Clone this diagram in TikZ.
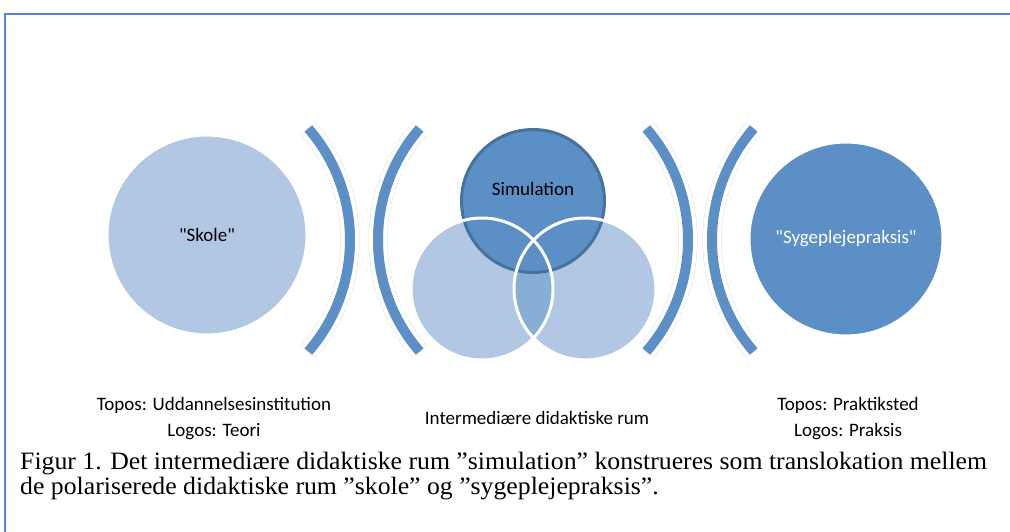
\documentclass[tikz,border=0pt]{standalone}
\usepackage{fontspec}
\setmainfont{Carlito}
\newfontfamily\capfont[FakeStretch=1.03]{Liberation Serif}
\usepackage{xcolor}
\usepackage{tikz}
\usetikzlibrary{positioning,calc}

\definecolor{frameblue}{HTML}{4F86CF}
\definecolor{paleblue}{HTML}{B2C7E3}
\definecolor{midblue}{HTML}{5B8FC5}
\definecolor{rimblue}{HTML}{46729F}
\definecolor{lensblue}{HTML}{86AED7}

\tikzset{
    room/.style={circle, inner sep=0pt, draw=white, line width=3pt, font=\fontsize{19}{22}\selectfont},
    venn/.style={circle, inner sep=0pt, minimum size=142pt},
    halo/.style={draw=gray!25, line width=0.5pt, double=white, double distance=18pt},
    bar/.style={draw=midblue, line width=10pt},
    lbl/.style={font=\fontsize{19}{22}\selectfont, inner sep=0pt},
    captext/.style={anchor=base west, inner sep=0pt, font=\capfont\fontsize{25}{25}\selectfont}
}

\begin{document}
\begin{tikzpicture}[x=1pt,y=-1pt]
    \useasboundingbox (0,0) rectangle (1010,531);

    % frame
    \draw[frameblue, line width=2pt] (5,14) rectangle (1020,545);

    % polar rooms
    \node[room, fill=paleblue, minimum size=200pt] (skole) at (207,235) {\textquotedbl Skole\textquotedbl};
    \node[room, fill=midblue, minimum size=194pt, text=white] (praksis) at (846,239) {\textquotedbl Sygeplejepraksis\textquotedbl};

    % brackets
    \foreach \cx/\ang in {180/0, 548/180, 518/0, 882/180} {
        \draw[halo] ($(\cx,240)+(\ang-41:170)$) arc[start angle=\ang-41, end angle=\ang+41, radius=170];
        \draw[bar] ($(\cx,240)+(\ang-41:170)$) arc[start angle=\ang-41, end angle=\ang+41, radius=170];
    }

    % venn
    \node[venn, fill=paleblue] (left) at (482,289) {};
    \node[venn, fill=paleblue] (right) at (585,289) {};
    \begin{scope}
        \clip (482,289) circle[radius=71];
        \fill[lensblue] (585,289) circle[radius=71];
    \end{scope}
    \node[circle, inner sep=0pt, minimum size=143pt, fill=midblue, draw=rimblue, line width=3pt] (sim) at (533,201) {};
    \node[lbl] (simtext) at (533,189) {Simulation};
    \draw[white, line width=3pt] (right.center) circle[radius=71];
    \draw[white, line width=3pt] (left.center) circle[radius=71];

    % labels
    \node[lbl] (topos1) at (214,405) {Topos: Uddannelsesinstitution};
    \node[lbl] (logos1) at (214,432) {Logos: Teori};
    \node[lbl] (mellem) at (537,418) {Intermediære didaktiske rum};
    \node[lbl] (topos2) at (848,405) {Topos: Praktiksted};
    \node[lbl] (logos2) at (848,432) {Logos: Praksis};

    % caption
    \node[captext] (cap1) at (20,469) {Figur 1. Det intermediære didaktiske rum ”simulation” konstrueres som translokation mellem};
    \node[captext] (cap2) at (20,494) {de polariserede didaktiske rum ”skole” og ”sygeplejepraksis”.};
\end{tikzpicture}
\end{document}
